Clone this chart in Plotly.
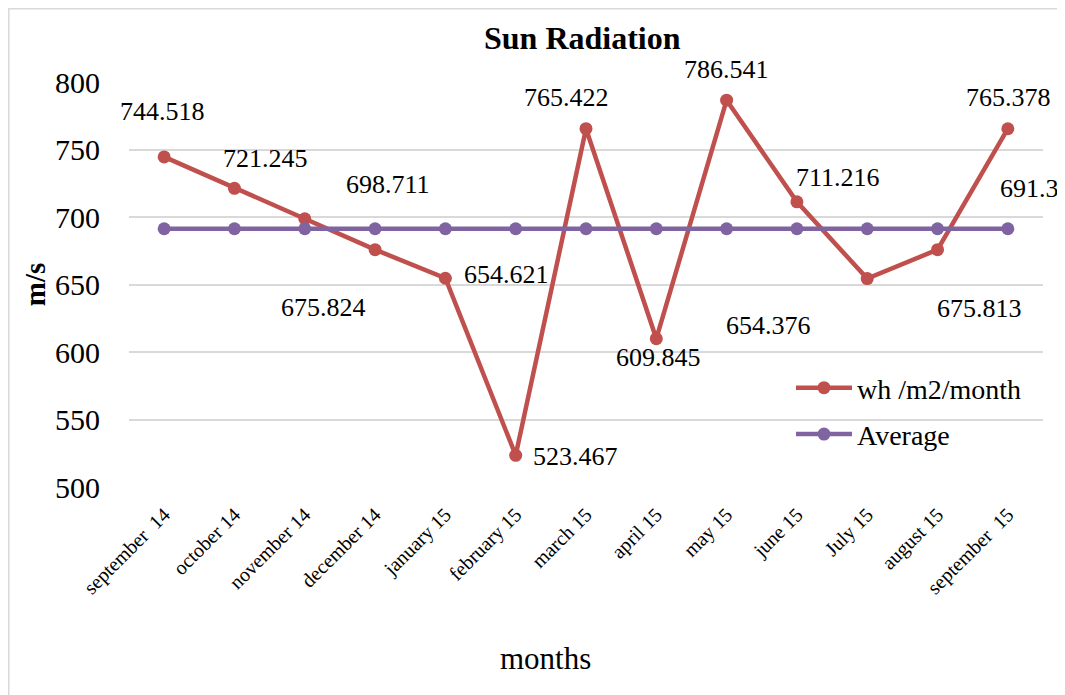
import plotly.graph_objects as go

months = ["september  14", "october 14", "november 14", "december 14", "january 15",
          "february 15", "march 15", "april 15", "may 15", "june 15", "July 15",
          "august 15", "september  15"]
radiation = [744.518, 721.245, 698.711, 675.824, 654.621, 523.467, 765.422,
             609.845, 786.541, 711.216, 654.376, 675.813, 765.378]
average = [691.3] * 13
label_text = ["744.518", "721.245", "698.711", "675.824", "654.621", "523.467", "765.422",
              "609.845", "786.541", "711.216", "654.376", "675.813", "765.378"]
# label offsets (pixels) relative to each point
label_dx = [-2, 31, 83, -52, 61, 60, -20, 2, 0, 41, -99, 42, 1]
label_dy = [45, 30, 34, -58, 4, -1, 31, -19, 31, 24, -47, -59, 31]

RED = "#C0504D"
PURPLE = "#8064A2"
FONT = "Liberation Serif"
OFF = 8  # page body margin

W, H = 1065, 695
pw, ph = 914, 405
L = 129 - OFF
T = 82 - OFF
R = W - L - pw
B = H - T - ph


def px(xw):
    return (xw - OFF - L) / pw


def py(yw):
    return (T + ph - (yw - OFF)) / ph


fig = go.Figure()
fig.add_trace(go.Scatter(x=months, y=radiation, mode="lines+markers", name="wh /m2/month",
                         line=dict(color=RED, width=4.5), marker=dict(color=RED, size=13),
                         legendgroup="a"))
fig.add_trace(go.Scatter(x=months, y=average, mode="lines+markers", name="Average",
                         line=dict(color=PURPLE, width=4.5), marker=dict(color=PURPLE, size=13),
                         legendgroup="b"))

annotations = []
for m, v, t, dx, dy in zip(months, radiation, label_text, label_dx, label_dy):
    annotations.append(dict(x=m, y=v, text=t, showarrow=False, xshift=dx, yshift=dy,
                            xanchor="center", yanchor="middle",
                            font=dict(family=FONT, size=26, color="#000000")))
annotations.append(dict(x=months[-1], y=average[-1], text="691.3", showarrow=False,
                        xshift=22, yshift=40, xanchor="center", yanchor="middle",
                        font=dict(family=FONT, size=26, color="#000000")))
# title
annotations.append(dict(xref="paper", yref="paper", x=px(582), y=py(38),
                        xanchor="center", yanchor="middle",
                        text="<b>Sun Radiation</b>", showarrow=False,
                        font=dict(family=FONT, size=32, color="#000000")))
# x axis title
annotations.append(dict(xref="paper", yref="paper", x=px(545), y=py(658),
                        xanchor="center", yanchor="middle",
                        text="months", showarrow=False,
                        font=dict(family=FONT, size=31, color="#000000")))

fig.update_layout(
    width=W, height=H,
    margin=dict(l=L, r=R, t=T, b=B),
    paper_bgcolor="white", plot_bgcolor="white",
    font=dict(family=FONT, color="#000000"),
    annotations=annotations,
    showlegend=True,
    legend=dict(x=px(791), y=py(363), xanchor="left", yanchor="top",
                bgcolor="rgba(0,0,0,0)", font=dict(family=FONT, size=28, color="#000000"),
                traceorder="grouped", tracegroupgap=7, itemwidth=56),
    shapes=[dict(type="rect", xref="paper", yref="paper",
                 x0=px(OFF + 0.8), x1=px(W + 20),
                 y0=py(H + 20), y1=py(OFF + 0.8),
                 line=dict(color="#D9D9D9", width=1.5), fillcolor="rgba(0,0,0,0)", layer="below")],
)
fig.update_xaxes(type="category", range=[-0.5, 12.5], showgrid=False, zeroline=False,
                 showline=False, tickangle=-45, ticks="",
                 tickvals=months, ticktext=[m.replace("  ", " \u00a0") for m in months],
                 tickfont=dict(family=FONT, size=20, color="#000000"), ticklabelstandoff=11)
fig.update_yaxes(range=[500, 800], dtick=50, showgrid=True, gridcolor="#D9D9D9", gridwidth=1.5,
                 zeroline=False, showline=False, ticks="",
                 tickfont=dict(family=FONT, size=30, color="#000000"), ticklabelstandoff=28,
                 title=dict(text="<b>m/s</b>", font=dict(family=FONT, size=29, color="#000000"),
                            standoff=0))

fig.write_html("out.html")
